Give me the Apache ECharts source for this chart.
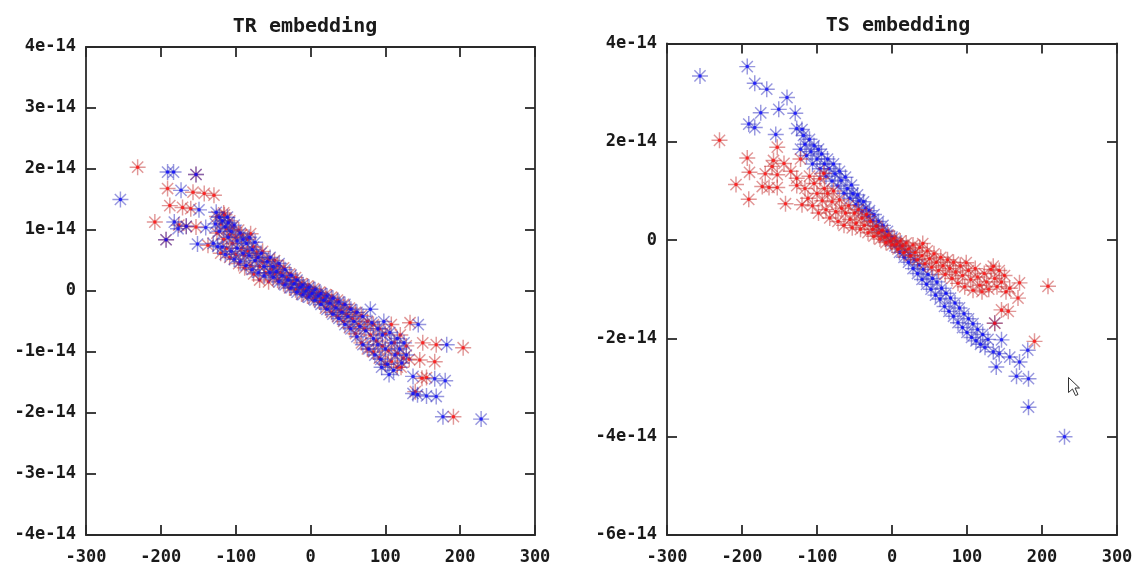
<!DOCTYPE html>
<html>
<head>
<meta charset="utf-8">
<script src="https://cdn.jsdelivr.net/npm/echarts@6/dist/echarts.min.js"></script>
<style>
  html, body { margin: 0; padding: 0; background: #ffffff; }
  #chart { width: 1138px; height: 566px; }
</style>
</head>
<body>
<div id="chart"></div>
<script>
// ---- Data (x in raw units, y in units of 1e-14) ----
const titles = ['TR embedding', 'TS embedding'];
const xTicks = [-300, -200, -100, 0, 100, 200, 300];
const trYTicks = [-4, -3, -2, -1, 0, 1, 2, 3, 4];      // ×1e-14
const tsYTicks = [-6, -4, -2, 0, 2, 4];                 // ×1e-14

const trRed = [
  [-231,2.03],[-153,1.91],[-191,1.68],[-157,1.62],[-142,1.60],[-129,1.57],[-188,1.40],[-171,1.37],
  [-160,1.35],[-208,1.13],[-166,1.06],[-153,1.05],[-193,0.84],[-137,0.75],[-176,1.08],[-115,1.25],
  [-125,0.95],[-125,1.22],[-120,0.62],[-120,1.10],[-116,0.85],[-116,1.28],[-112,0.70],[-112,1.02],
  [-108,0.55],[-108,0.92],[-108,1.15],[-104,0.78],[-104,1.05],[-100,0.60],[-100,0.88],[-96,0.45],
  [-96,1.00],[-92,0.70],[-92,0.92],[-88,0.38],[-88,0.58],[-84,0.66],[-84,0.85],[-80,0.42],
  [-80,0.94],[-76,0.28],[-76,0.72],[-72,0.55],[-72,0.62],[-68,0.18],[-68,0.40],[-64,0.48],
  [-64,0.65],[-60,0.30],[-56,0.52],[-56,0.15],[-52,0.36],[-48,0.28],[-48,0.50],[-44,0.18],
  [-44,0.42],[-40,0.30],[-36,0.12],[-36,0.38],[-32,0.22],[-28,0.05],[-28,0.28],[-24,0.15],
  [-20,0.02],[-20,0.22],[-16,0.10],[-12,-0.05],[-12,0.12],[-8,0.03],[-4,-0.08],[-4,0.08],
  [0,-0.02],[4,-0.12],[4,0.04],[8,-0.06],[12,-0.18],[12,-0.02],[16,-0.12],[20,-0.28],
  [20,-0.06],[24,-0.18],[28,-0.35],[28,-0.10],[32,-0.25],[36,-0.42],[36,-0.15],[40,-0.32],
  [44,-0.50],[44,-0.22],[48,-0.38],[52,-0.60],[52,-0.28],[56,-0.45],[60,-0.70],[60,-0.35],
  [64,-0.55],[68,-0.85],[68,-0.40],[72,-0.62],[76,-0.95],[76,-0.50],[80,-0.72],[84,-1.00],
  [84,-0.55],[88,-0.82],[92,-1.10],[92,-0.62],[96,-0.90],[100,-1.20],[100,-0.70],[104,-0.98],
  [108,-1.15],[108,-0.55],[112,-0.85],[116,-1.25],[116,-1.02],[120,-0.72],[124,-1.10],[128,-0.90],
  [132,-1.12],[133,-0.52],[150,-0.85],[168,-0.88],[204,-0.93],[146,-1.13],[166,-1.16],[149,-1.43],
  [155,-1.42],[191,-2.06],[140,-1.65],[121,-1.25]
];
const trBlue = [
  [-254,1.50],[-191,1.95],[-183,1.95],[-153,1.91],[-173,1.65],[-149,1.33],[-182,1.13],[-166,1.06],
  [-140,1.04],[-126,1.29],[-122,1.21],[-193,0.84],[-151,0.77],[-124,0.73],[-111,1.21],[-177,1.02],
  [-130,0.78],[-127,1.10],[-122,0.98],[-118,1.15],[-118,0.72],[-114,1.05],[-114,0.60],[-110,0.88],
  [-110,1.12],[-106,0.65],[-106,0.98],[-102,1.08],[-102,0.52],[-98,0.82],[-98,0.70],[-94,0.95],
  [-94,0.48],[-90,0.62],[-90,0.85],[-86,0.78],[-86,0.42],[-82,0.58],[-82,0.88],[-78,0.35],
  [-78,0.68],[-74,0.50],[-74,0.80],[-70,0.55],[-70,0.30],[-66,0.62],[-62,0.40],[-62,0.25],
  [-58,0.48],[-54,0.30],[-54,0.55],[-50,0.22],[-50,0.40],[-46,0.32],[-42,0.15],[-42,0.45],
  [-38,0.25],[-34,0.10],[-34,0.35],[-30,0.18],[-26,0.05],[-26,0.26],[-22,0.12],[-18,-0.02],
  [-18,0.18],[-14,0.06],[-10,-0.06],[-10,0.10],[-6,0.00],[-2,-0.10],[-2,0.06],[2,-0.04],
  [6,-0.15],[6,0.02],[10,-0.08],[14,-0.22],[14,-0.04],[18,-0.15],[22,-0.30],[22,-0.08],
  [26,-0.20],[30,-0.38],[30,-0.12],[34,-0.28],[38,-0.45],[38,-0.18],[42,-0.35],[46,-0.55],
  [46,-0.22],[50,-0.42],[54,-0.62],[54,-0.30],[58,-0.50],[62,-0.75],[62,-0.35],[66,-0.58],
  [70,-0.88],[70,-0.42],[74,-0.65],[78,-0.95],[80,-0.30],[82,-0.52],[84,-0.78],[86,-1.05],
  [90,-0.62],[90,-0.88],[94,-1.12],[96,-0.72],[98,-0.50],[100,-0.95],[103,-1.20],[106,-0.68],
  [108,-0.85],[111,-1.30],[113,-1.05],[116,-0.78],[119,-0.95],[122,-1.18],[125,-0.85],[128,-1.05],
  [95,-1.25],[105,-1.37],
  [144,-0.55],[182,-0.88],[137,-1.40],[166,-1.44],[180,-1.47],[137,-1.68],[155,-1.72],[168,-1.73],
  [177,-2.06],[228,-2.10],[143,-1.70]
];
const tsBlue = [
  [-256,3.34],[-193,3.53],[-183,3.19],[-167,3.07],[-140,2.90],[-151,2.66],[-129,2.58],[-175,2.59],
  [-191,2.36],[-183,2.29],[-155,2.15],[-127,2.27],[-118,2.13],
  [-122,1.85],[-120,2.25],[-116,1.95],[-114,1.72],[-110,2.05],[-108,1.80],[-106,1.55],[-104,1.92],
  [-100,1.65],[-98,1.85],[-96,1.45],[-94,1.75],[-90,1.55],[-88,1.30],[-86,1.65],[-84,1.45],
  [-80,1.20],[-78,1.55],[-76,1.35],[-72,1.10],[-70,1.40],[-68,1.22],[-64,0.95],[-62,1.28],
  [-60,1.05],[-56,0.85],[-54,1.12],[-52,0.95],[-48,0.72],[-46,0.92],[-44,0.80],[-40,0.58],
  [-38,0.78],[-35,0.65],[-32,0.48],[-30,0.60],[-26,0.40],[-24,0.52],[-20,0.28],[-18,0.38],
  [-14,0.18],[-12,0.30],[-8,0.08],[-6,0.18],[-2,-0.02],[0,0.06],[4,-0.12],[6,-0.02],
  [10,-0.25],[12,-0.12],[16,-0.35],[18,-0.22],[22,-0.45],[24,-0.30],[28,-0.58],[30,-0.40],
  [34,-0.68],[36,-0.50],[40,-0.80],[42,-0.60],[46,-0.90],[48,-0.70],[52,-1.00],[54,-0.78],
  [58,-1.12],[60,-0.85],[64,-1.20],[66,-0.98],[70,-1.35],[72,-1.08],[76,-1.45],[78,-1.18],
  [82,-1.55],[84,-1.28],[88,-1.68],[90,-1.38],[94,-1.78],[96,-1.50],[100,-1.88],[102,-1.60],
  [106,-1.98],[108,-1.70],[112,-2.05],[114,-1.82],[118,-2.12],[121,-1.92],[124,-2.18],[128,-2.02],
  [146,-2.03],[135,-2.27],[143,-2.31],[157,-2.38],[170,-2.48],[181,-2.24],[139,-2.58],[166,-2.77],
  [182,-2.82],[182,-3.40],[230,-4.00],[137,-1.69]
];
const tsRed = [
  [-230,2.03],[-153,1.89],[-193,1.67],[-158,1.62],[-144,1.56],[-190,1.38],[-169,1.35],[-153,1.33],
  [-127,1.26],[-208,1.13],[-173,1.09],[-164,1.07],[-153,1.07],[-127,1.11],[-191,0.83],[-142,0.74],
  [-120,0.72],[-160,1.50],[-91,1.36],[-122,1.65],[-135,1.40],
  [-116,1.05],[-112,0.85],[-110,1.30],[-106,0.70],[-104,1.15],[-100,0.95],[-98,0.55],[-96,1.25],
  [-93,0.80],[-90,1.05],[-88,0.62],[-86,0.95],[-83,0.45],[-80,0.78],[-78,1.00],[-75,0.58],
  [-72,0.38],[-70,0.82],[-67,0.65],[-64,0.30],[-62,0.55],[-58,0.70],[-56,0.42],[-53,0.25],
  [-50,0.55],[-48,0.35],[-45,0.62],[-42,0.22],[-40,0.45],[-37,0.30],[-34,0.52],[-32,0.15],
  [-29,0.38],[-26,0.22],[-24,0.08],[-21,0.28],[-18,0.15],[-16,0.02],[-13,0.20],[-10,0.06],
  [-8,-0.05],[-5,0.10],[-2,-0.02],[0,-0.10],[3,0.04],[6,-0.08],[8,-0.18],[11,-0.02],
  [14,-0.12],[16,-0.25],[19,-0.06],[22,-0.18],[25,-0.32],[28,-0.10],[31,-0.25],[34,-0.40],
  [37,-0.15],[40,-0.32],[41,-0.07],[44,-0.48],[47,-0.22],[50,-0.38],[53,-0.55],[56,-0.28],
  [59,-0.45],[62,-0.62],[65,-0.35],[68,-0.52],[71,-0.70],[74,-0.40],[77,-0.58],[80,-0.78],
  [82,-0.45],[85,-0.65],[88,-0.88],[91,-0.52],[94,-0.72],[97,-0.95],[99,-0.46],[102,-0.62],
  [105,-0.80],[108,-1.02],[111,-0.58],[114,-0.75],[117,-0.92],[120,-1.05],[123,-0.68],[126,-0.85],
  [129,-1.00],[132,-0.60],[135,-0.53],[137,-0.78],[140,-0.95],[143,-0.62],[146,-0.85],[150,-0.72],
  [152,-1.05],[157,-0.98],[170,-0.87],[208,-0.94],[168,-1.18],[146,-1.42],[155,-1.45],[137,-1.69],
  [190,-2.06]
];

// ---- Styling ----
const FONT = '"DejaVu Sans Mono", monospace';
const ASTERISK = 'path://M0 9.1H20V10.9H0Z M9.1 0H10.9V20H9.1Z ' +
  'M3.636 2.364L17.636 16.364L16.364 17.636L2.364 3.636Z ' +
  'M17.636 3.636L3.636 17.636L2.364 16.364L16.364 2.364Z';
const RED_ARM = 'rgba(195,45,45,0.62)', RED_DOT = '#ff0a0a';
const BLUE_ARM = 'rgba(45,45,190,0.62)', BLUE_DOT = '#0a0aff';
const AX_COLOR = '#2a2a2a';

function yFmt(v) { return v === 0 ? '0' : v + 'e-14'; }

function xAxisPair(gi) {
  const base = { gridIndex: gi, type: 'value', min: -300, max: 300, interval: 100,
    splitLine: { show: false },
    axisLine: { show: true, onZero: false, lineStyle: { color: AX_COLOR, width: 1.8 } },
    axisTick: { show: true, inside: true, length: 10, lineStyle: { color: AX_COLOR, width: 1.8 } } };
  return [
    Object.assign({}, base, { position: 'bottom',
      axisLabel: { show: true, margin: 14, fontFamily: FONT, fontSize: 17, fontWeight: 'bold', color: '#1a1a1a' } }),
    Object.assign({}, base, { position: 'top', axisLabel: { show: false } })
  ];
}
function yAxisPair(gi, min, max, interval) {
  const base = { gridIndex: gi, type: 'value', min: min, max: max, interval: interval,
    splitLine: { show: false },
    axisLine: { show: true, onZero: false, lineStyle: { color: AX_COLOR, width: 1.8 } },
    axisTick: { show: true, inside: true, length: 10, lineStyle: { color: AX_COLOR, width: 1.8 } } };
  return [
    Object.assign({}, base, { position: 'left',
      axisLabel: { show: true, margin: 10, fontFamily: FONT, fontSize: 17, fontWeight: 'bold', color: '#1a1a1a', formatter: yFmt } }),
    Object.assign({}, base, { position: 'right', axisLabel: { show: false } })
  ];
}

function armSeries(data, xi, yi, color) {
  return { type: 'scatter', xAxisIndex: xi, yAxisIndex: yi, data: data, symbol: ASTERISK,
    symbolSize: 16, itemStyle: { color: color }, silent: true, animation: false };
}
function dotSeries(data, xi, yi, color) {
  return { type: 'scatter', xAxisIndex: xi, yAxisIndex: yi, data: data, symbol: 'circle',
    symbolSize: 3.5, itemStyle: { color: color }, silent: true, animation: false };
}

const chart = echarts.init(document.getElementById('chart'), null, { renderer: 'canvas' });
chart.setOption({
  backgroundColor: '#ffffff',
  animation: false,
  title: [
    { text: titles[0], left: 300, top: 12, textAlign: 'center',
      textStyle: { fontFamily: FONT, fontSize: 20, fontWeight: 'bold', color: '#1a1a1a' } },
    { text: titles[1], left: 893, top: 11, textAlign: 'center',
      textStyle: { fontFamily: FONT, fontSize: 20, fontWeight: 'bold', color: '#1a1a1a' } }
  ],
  grid: [
    { left: 86, top: 47, width: 449, height: 488 },
    { left: 667, top: 43.5, width: 450, height: 491.5 }
  ],
  xAxis: [].concat(xAxisPair(0), xAxisPair(1)),
  yAxis: [].concat(yAxisPair(0, trYTicks[0], trYTicks[trYTicks.length - 1], 1),
                   yAxisPair(1, tsYTicks[0], tsYTicks[tsYTicks.length - 1], 2)),
  series: [
    armSeries(trRed, 0, 0, RED_ARM), dotSeries(trRed, 0, 0, RED_DOT),
    armSeries(trBlue, 0, 0, BLUE_ARM), dotSeries(trBlue, 0, 0, BLUE_DOT),
    armSeries(tsBlue, 2, 2, BLUE_ARM), dotSeries(tsBlue, 2, 2, BLUE_DOT),
    armSeries(tsRed, 2, 2, RED_ARM), dotSeries(tsRed, 2, 2, RED_DOT)
  ],
  graphic: [
    { type: 'polygon', left: 1068, top: 377, silent: true,
      shape: { points: [[0,0],[0,15],[4,11.5],[7,18],[9.5,17],[6.5,10.5],[11,10.5]] },
      style: { fill: '#ffffff', stroke: '#333', lineWidth: 1 } }
  ]
});
</script>
</body>
</html>
